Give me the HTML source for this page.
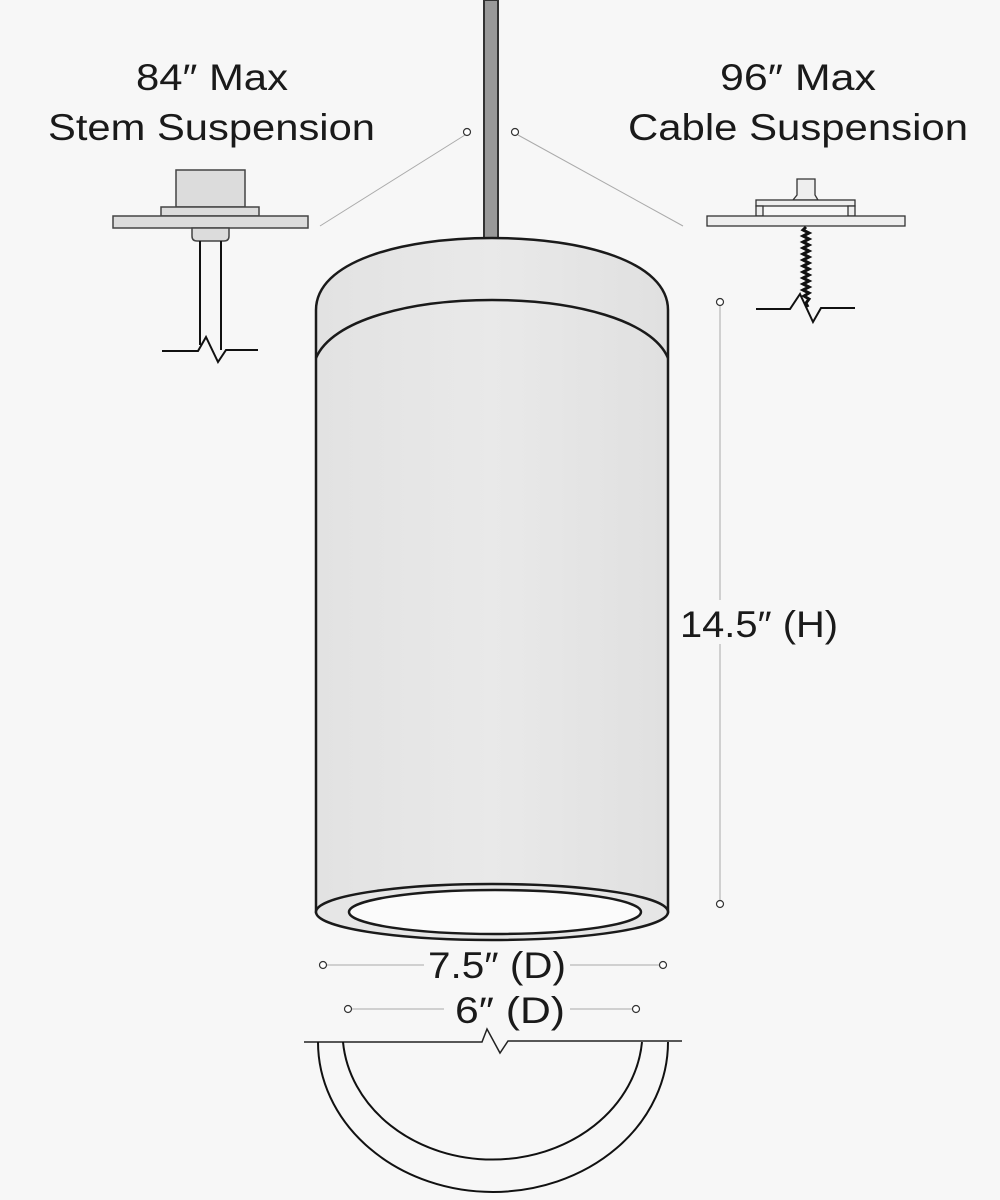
<!DOCTYPE html>
<html><head><meta charset="utf-8"><style>
html,body{margin:0;padding:0;background:#f7f7f7;}
svg{display:block;}
text{font-family:"Liberation Sans",sans-serif;fill:#1a1a1a;}
</style></head><body>
<svg width="1000" height="1200" viewBox="0 0 1000 1200" xmlns="http://www.w3.org/2000/svg">
<defs>
<linearGradient id="g" x1="0" x2="1" y1="0" y2="0">
<stop offset="0" stop-color="#e2e2e2"/><stop offset="0.5" stop-color="#e9e9e9"/><stop offset="1" stop-color="#e0e0e0"/>
</linearGradient>
</defs>
<rect width="1000" height="1200" fill="#f7f7f7"/>
<!-- labels -->
<text x="136" y="90" font-size="37" textLength="152" lengthAdjust="spacingAndGlyphs">84″ Max</text>
<text x="48" y="140" font-size="37" textLength="327" lengthAdjust="spacingAndGlyphs">Stem Suspension</text>
<text x="720" y="90" font-size="37" textLength="156" lengthAdjust="spacingAndGlyphs">96″ Max</text>
<text x="628" y="140" font-size="37" textLength="340" lengthAdjust="spacingAndGlyphs">Cable Suspension</text>
<!-- leaders -->
<line x1="465" y1="135" x2="320" y2="226" stroke="#aaa" stroke-width="1"/>
<line x1="518" y1="135" x2="683" y2="226" stroke="#aaa" stroke-width="1"/>
<circle cx="467" cy="132" r="3.5" fill="#fff" stroke="#333" stroke-width="1.2"/>
<circle cx="515" cy="132" r="3.5" fill="#fff" stroke="#333" stroke-width="1.2"/>
<!-- stem -->
<rect x="484" y="0" width="14" height="242" fill="#999" stroke="#333" stroke-width="2"/>
<!-- cylinder -->
<path d="M316,310 C316,262 400,238 492,238 C584,238 668,262 668,310 L668,912 L316,912 Z" fill="url(#g)" stroke="#1a1a1a" stroke-width="2.5"/>
<path d="M316,358 C332,320 410,300 492,300 C574,300 652,320 668,358" fill="none" stroke="#1a1a1a" stroke-width="2.5"/>
<ellipse cx="492" cy="912" rx="176" ry="28" fill="#e6e6e6" stroke="#1a1a1a" stroke-width="2.5"/>
<ellipse cx="495" cy="912" rx="146" ry="22" fill="#fbfbfb" stroke="#1a1a1a" stroke-width="2.5"/>
<!-- stem detail -->
<rect x="176" y="170" width="69" height="37" fill="#dcdcdc" stroke="#444" stroke-width="1.5"/>
<rect x="161" y="207" width="98" height="9" fill="#dcdcdc" stroke="#444" stroke-width="1.5"/>
<rect x="113" y="216" width="195" height="12" fill="#dcdcdc" stroke="#444" stroke-width="1.5"/>
<path d="M192,228 L229,228 L229,236 Q229,241 224,241 L197,241 Q192,241 192,236 Z" fill="#dcdcdc" stroke="#444" stroke-width="1.5"/>
<path d="M200,241 L200,345 M221,241 L221,350" stroke="#111" stroke-width="2" fill="none"/>
<path d="M162,351 L198,351 L206,337 L218,362 L226,350 L258,350" stroke="#111" stroke-width="2" fill="none"/>
<!-- cable detail -->
<path d="M797,179 L815,179 L815,195 L818,200 L793,200 L797,195 Z" fill="#eee" stroke="#333" stroke-width="1.3"/>
<rect x="756" y="200" width="99" height="6" fill="#eee" stroke="#333" stroke-width="1.3"/>
<rect x="756" y="206" width="7" height="10" fill="#eee" stroke="#333" stroke-width="1.3"/>
<rect x="848" y="206" width="7" height="10" fill="#eee" stroke="#333" stroke-width="1.3"/>
<rect x="707" y="216" width="198" height="10" fill="#eee" stroke="#333" stroke-width="1.3"/>
<path d="M806,227 L803,230 L809,233 L803,236 L809,239 L803,242 L809,245 L803,248 L809,251 L803,254 L809,257 L803,260 L809,263 L803,266 L809,269 L803,272 L809,275 L803,278 L809,281 L803,284 L809,287 L803,290 L809,293 L804,296 L809,299 L806,303 L808,307" fill="none" stroke="#111" stroke-width="3"/>
<path d="M756,309 L790,309 L800,294 L813,322 L821,308 L855,308" stroke="#111" stroke-width="2" fill="none"/>
<!-- height dim -->
<line x1="720" y1="306" x2="720" y2="900" stroke="#aaa" stroke-width="1"/>
<circle cx="720" cy="302" r="3.5" fill="#fff" stroke="#333" stroke-width="1.2"/>
<circle cx="720" cy="904" r="3.5" fill="#fff" stroke="#333" stroke-width="1.2"/>
<rect x="676" y="600" width="170" height="44" fill="#f7f7f7"/>
<text x="680" y="637" font-size="37" textLength="158" lengthAdjust="spacingAndGlyphs">14.5″ (H)</text>
<!-- diameters -->
<line x1="327" y1="965" x2="424" y2="965" stroke="#aaa" stroke-width="1"/>
<line x1="570" y1="965" x2="659" y2="965" stroke="#aaa" stroke-width="1"/>
<circle cx="323" cy="965" r="3.5" fill="#fff" stroke="#333" stroke-width="1.2"/>
<circle cx="663" cy="965" r="3.5" fill="#fff" stroke="#333" stroke-width="1.2"/>
<text x="428" y="978" font-size="37" textLength="138" lengthAdjust="spacingAndGlyphs">7.5″ (D)</text>
<line x1="352" y1="1009" x2="444" y2="1009" stroke="#aaa" stroke-width="1"/>
<line x1="570" y1="1009" x2="632" y2="1009" stroke="#aaa" stroke-width="1"/>
<circle cx="348" cy="1009" r="3.5" fill="#fff" stroke="#333" stroke-width="1.2"/>
<circle cx="636" cy="1009" r="3.5" fill="#fff" stroke="#333" stroke-width="1.2"/>
<text x="455" y="1023" font-size="37" textLength="110" lengthAdjust="spacingAndGlyphs">6″ (D)</text>
<!-- bottom section -->
<path d="M304,1042 L482,1042 L487,1029 L500,1053 L508,1041 L682,1041" fill="none" stroke="#222" stroke-width="1.5"/>
<path d="M318,1042 A175 150 0 0 0 668,1042" fill="none" stroke="#111" stroke-width="2"/>
<path d="M343,1042 A150 128 0 0 0 642,1042" fill="none" stroke="#111" stroke-width="2"/>
</svg>
</body></html>
